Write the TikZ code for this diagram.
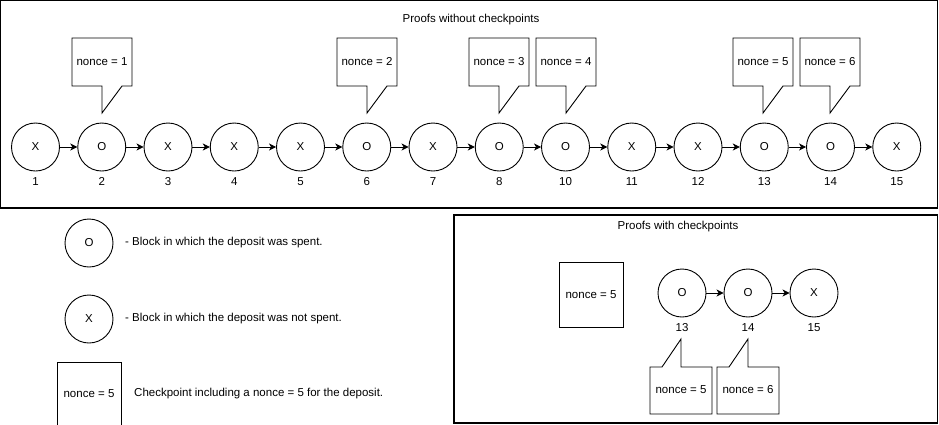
\documentclass[tikz,border=0pt]{standalone}
\usepackage{fontspec}
\setmainfont{Liberation Sans}
\usetikzlibrary{arrows.meta}
\tikzset{
  shp/.style={draw=black, line width=0.9pt, fill=white},
  blk/.style={circle, draw=black, line width=0.9pt, minimum size=48pt, inner sep=0pt, font=\fontsize{11.5}{13}\selectfont},
  txt/.style={inner sep=0pt, font=\fontsize{11.5}{13}\selectfont},
  numlbl/.style={txt, anchor=base},
  frame/.style={draw=black, line width=1.1pt},
  arr/.style={draw=black, line width=0.9pt, -{Stealth[length=7pt,width=7pt,inset=2pt]}},
}
\newcommand\mycalldown[3]{%
  \draw[shp] ({#2-30},38) -- ({#2+30},38) -- ({#2+30},86) -- ({#2+20},86) -- (#2,113) -- (#2,86) -- ({#2-30},86) -- cycle;
  \node[txt] (#1) at (#2,62) {#3};
}
\newcommand\mycallup[3]{%
  \draw[shp] ({#2-31},414) -- ({#2+31},414) -- ({#2+31},367) -- (#2,367) -- (#2,339) -- ({#2-19},367) -- ({#2-31},367) -- cycle;
  \node[txt] (#1) at (#2,390) {#3};
}
\begin{document}
\begin{tikzpicture}[x=1pt,y=-1pt]
\useasboundingbox (0,0) rectangle (939,424);
% top frame
\draw[frame] (0.6,0.6) rectangle (937.5,208);
\node[txt] (title1) at (471,20) {Proofs without checkpoints};
% chain
\foreach \s/\l [count=\i from 0] in {X/1,O/2,X/3,X/4,X/5,O/6,X/7,O/8,O/10,X/11,X/12,O/13,O/14,X/15}{
  \node[blk] (t\i) at ({35.5+66.25*\i},147) {\s};
  \node[numlbl] (tl\i) at ({35.5+66.25*\i},185.5) {\l};
}
\foreach \i [evaluate=\i as \j using int(\i+1)] in {0,...,12}{
  \draw[arr] (t\i) -- (t\j);
}
% callouts
\mycalldown{c1}{102}{nonce = 1}
\mycalldown{c2}{367}{nonce = 2}
\mycalldown{c3}{499}{nonce = 3}
\mycalldown{c4}{566}{nonce = 4}
\mycalldown{c5}{763}{nonce = 5}
\mycalldown{c6}{830}{nonce = 6}
% legend
\node[blk] (lo) at (89,243) {O};
\node[txt, anchor=west] (lot) at (125,243) {- Block in which the deposit was spent.};
\node[blk] (lx) at (89,319) {X};
\node[txt, anchor=west] (lxt) at (125,319) {- Block in which the deposit was not spent.};
\draw[shp] (57,362) rectangle (121,426);
\node[txt] (lc) at (89,394) {nonce = 5};
\node[txt, anchor=west] (lct) at (134,394) {Checkpoint including a nonce = 5 for the deposit.};
% right frame
\draw[frame] (454,215) rectangle (937.5,423);
\node[txt] (title2) at (678,227) {Proofs with checkpoints};
\draw[shp] (559,262) rectangle (623,327);
\node[txt] (cp) at (591,294.5) {nonce = 5};
\node[blk] (r1) at (682,293) {O};
\node[blk] (r2) at (748,293) {O};
\node[blk] (r3) at (814,293) {X};
\node[numlbl] (rl1) at (682,331.5) {13};
\node[numlbl] (rl2) at (748,331.5) {14};
\node[numlbl] (rl3) at (814,331.5) {15};
\draw[arr] (r1) -- (r2);
\draw[arr] (r2) -- (r3);
\mycallup{u1}{681}{nonce = 5}
\mycallup{u2}{748}{nonce = 6}
\end{tikzpicture}
\end{document}
